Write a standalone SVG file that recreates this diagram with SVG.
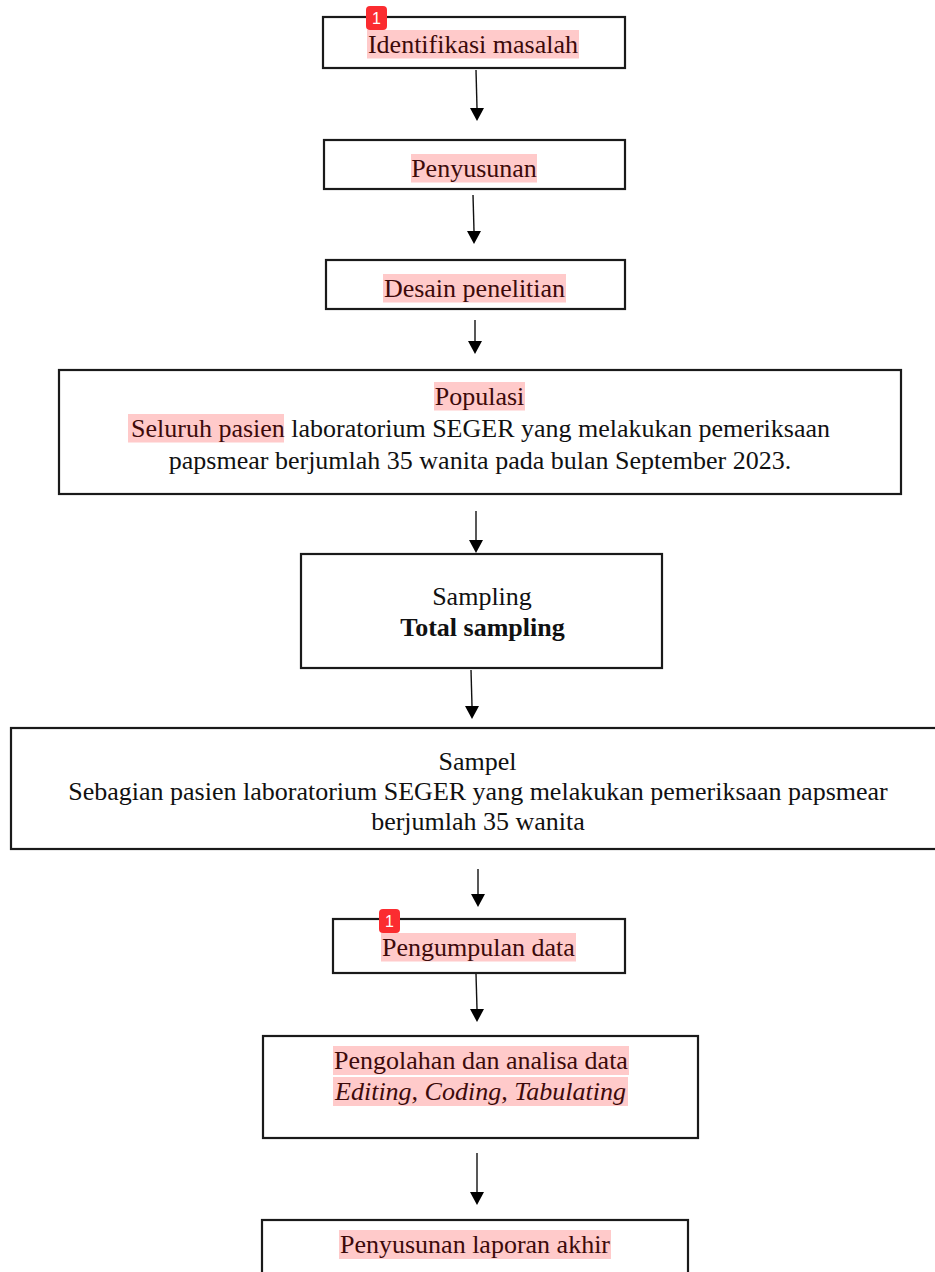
<svg xmlns="http://www.w3.org/2000/svg" width="935" height="1272" viewBox="0 0 935 1272">
<style>
.box{fill:#fff;stroke:#1a1a1a;stroke-width:2.2}
.t{font-family:"Liberation Serif","Times New Roman",serif;font-size:26px;fill:#111;text-anchor:middle}
.hl{fill:#ffcaca}
.ht{fill:#3d0a0a}
.conn{stroke:#111;stroke-width:1.4;fill:none}
.badge{fill:#fb2c30}
.bt{font-family:"Liberation Sans",Arial,sans-serif;font-size:16px;fill:#fff;text-anchor:middle}
</style>
<rect width="935" height="1272" fill="#fff"/>

<g id="connectors">
<line class="conn" x1="476" y1="70" x2="477" y2="108"/><path d="M470,108 L484,108 L477,121 Z" fill="#000"/>
<line class="conn" x1="473" y1="195" x2="474" y2="231"/><path d="M467,231 L481,231 L474,244 Z" fill="#000"/>
<line class="conn" x1="475" y1="320" x2="475" y2="341"/><path d="M468,341 L482,341 L475,354 Z" fill="#000"/>
<line class="conn" x1="476" y1="511" x2="476" y2="540"/><path d="M469,540 L483,540 L476,553 Z" fill="#000"/>
<line class="conn" x1="471" y1="670" x2="472" y2="706"/><path d="M465,706 L479,706 L472,719 Z" fill="#000"/>
<line class="conn" x1="478" y1="869" x2="478" y2="894"/><path d="M471,894 L485,894 L478,907 Z" fill="#000"/>
<line class="conn" x1="476" y1="974" x2="477" y2="1009"/><path d="M470,1009 L484,1009 L477,1022 Z" fill="#000"/>
<line class="conn" x1="477" y1="1153" x2="477" y2="1192"/><path d="M470,1192 L484,1192 L477,1205 Z" fill="#000"/>
</g>

<g id="n1">
<rect class="box" x="323" y="17" width="302" height="51"/>
<rect class="hl" x="367" y="30" width="212" height="28.5"/>
<text class="t ht" x="473" y="53">Identifikasi masalah</text>
<rect class="badge" x="366" y="6" width="21" height="24" rx="4"/>
<text class="bt" x="376.5" y="24">1</text>
</g>

<g id="n2">
<rect class="box" x="324" y="140" width="301" height="49"/>
<rect class="hl" x="411" y="154" width="126" height="28.5"/>
<text class="t ht" x="474" y="177">Penyusunan</text>
</g>

<g id="n3">
<rect class="box" x="326" y="260" width="299" height="49"/>
<rect class="hl" x="383" y="274" width="183" height="28.5"/>
<text class="t ht" x="474.5" y="297">Desain penelitian</text>
</g>

<g id="n4">
<rect class="box" x="59" y="370" width="842" height="124"/>
<rect class="hl" x="434" y="382" width="91" height="28.5"/>
<text class="t ht" x="479.5" y="405">Populasi</text>
<rect class="hl" x="128" y="414" width="156" height="28.5"/>
<text class="t" x="480.5" y="437"><tspan class="ht">Seluruh pasien</tspan> laboratorium SEGER yang melakukan pemeriksaan</text>
<text class="t" x="480" y="469">papsmear berjumlah 35 wanita pada bulan September 2023.</text>
</g>

<g id="n5">
<rect class="box" x="301" y="554" width="361" height="114"/>
<text class="t" x="482" y="605">Sampling</text>
<text class="t" x="482.5" y="636" font-weight="bold">Total sampling</text>
</g>

<g id="n6">
<rect class="box" x="11" y="728" width="930" height="121"/>
<text class="t" x="477.5" y="770">Sampel</text>
<text class="t" x="478" y="800">Sebagian pasien laboratorium SEGER yang melakukan pemeriksaan papsmear</text>
<text class="t" x="478" y="830">berjumlah 35 wanita</text>
</g>

<g id="n7">
<rect class="box" x="333" y="919" width="292" height="54"/>
<rect class="hl" x="381" y="933" width="195" height="28.5"/>
<text class="t ht" x="478.5" y="956">Pengumpulan data</text>
<rect class="badge" x="379" y="909" width="21" height="24" rx="4"/>
<text class="bt" x="389.5" y="927">1</text>
</g>

<g id="n8">
<rect class="box" x="263" y="1036" width="435" height="102"/>
<rect class="hl" x="333" y="1046" width="296" height="29"/>
<text class="t ht" x="481" y="1069">Pengolahan dan analisa data</text>
<rect class="hl" x="333" y="1077" width="295" height="29"/>
<text class="t ht" x="480.5" y="1100" font-style="italic">Editing, Coding, Tabulating</text>
</g>

<g id="n9">
<rect class="box" x="262" y="1220" width="426" height="60"/>
<rect class="hl" x="339" y="1230" width="272" height="29"/>
<text class="t ht" x="475" y="1253">Penyusunan laporan akhir</text>
</g>
</svg>
